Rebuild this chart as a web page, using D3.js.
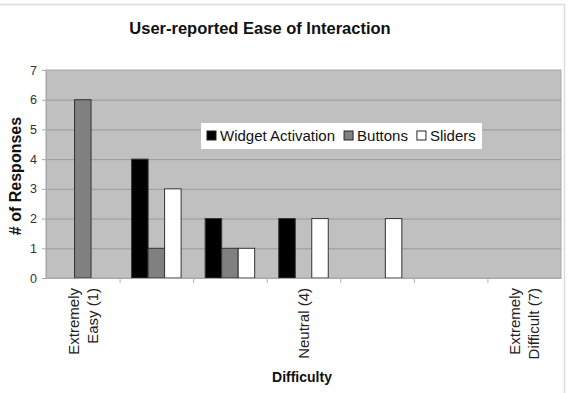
<!DOCTYPE html>
<html lang="en">
<head>
<meta charset="UTF-8">
<title>User-reported Ease of Interaction</title>
<style>
  html, body { margin: 0; padding: 0; background: #fff; }
  svg { display: block; font-family: "Liberation Sans", Arial, sans-serif; }
</style>
</head>
<body>
<svg id="chart" width="570" height="393"></svg>
<script src="https://cdn.jsdelivr.net/npm/d3@7"></script>
<script>
// data
const categories = [1, 2, 3, 4, 5, 6, 7];
const tickLabels = [["Extremely", "Easy (1)"], [], [], ["Neutral (4)"], [], [], ["Extremely", "Difficult (7)"]];
const seriesNames = ["Widget Activation", "Buttons", "Sliders"];
const seriesColors = ["#000000", "#808080", "#ffffff"];
const widget = [0, 4, 2, 2, 0, 0, 0];
const buttons = [6, 1, 1, 0, 0, 0, 0];
const sliders = [0, 3, 1, 2, 2, 0, 0];
const yTicks = [0, 1, 2, 3, 4, 5, 6, 7];

const series = [widget, buttons, sliders];

const svg = d3.select('#chart');
const plot = { left: 46, right: 561, top: 70, bottom: 278 };

// outer frame
svg.append('rect')
  .attr('x', -1).attr('y', 4.5).attr('width', 565.5).attr('height', 400)
  .attr('fill', 'none').attr('stroke', '#dcdcdc').attr('stroke-width', 1.5);

const x = d3.scaleBand().domain(categories).range([plot.left, plot.right]).padding(0);
const groupW = 49.5;
const xs = d3.scaleBand().domain(seriesNames).range([0, groupW]).padding(0);
const y = d3.scaleLinear().domain([0, 7]).range([plot.bottom, plot.top]);

// plot area
svg.append('rect')
  .attr('x', plot.left).attr('y', plot.top)
  .attr('width', plot.right - plot.left).attr('height', plot.bottom - plot.top)
  .attr('fill', '#c0c0c0').attr('stroke', '#a8a8a8');

// gridlines
svg.append('g').selectAll('line')
  .data(yTicks.slice(1, -1))
  .enter().append('line')
  .attr('x1', plot.left).attr('x2', plot.right)
  .attr('y1', d => y(d) + 0.5).attr('y2', d => y(d) + 0.5)
  .attr('stroke', '#9a9a9a');

// bars
const barData = [];
series.forEach((vals, si) => {
  vals.forEach((v, ci) => {
    if (v > 0) barData.push({ s: seriesNames[si], c: categories[ci], v: v, color: seriesColors[si] });
  });
});
svg.append('g').selectAll('rect')
  .data(barData)
  .enter().append('rect')
  .attr('x', d => x(d.c) + (x.bandwidth() - groupW) / 2 + xs(d.s))
  .attr('y', d => y(d.v))
  .attr('width', xs.bandwidth())
  .attr('height', d => y(0) - y(d.v))
  .attr('fill', d => d.color)
  .attr('stroke', '#333')
  .attr('stroke-width', 1);

// y axis
const yAxis = svg.append('g')
  .attr('transform', `translate(${plot.left},0)`)
  .call(d3.axisLeft(y).tickValues(yTicks).tickFormat(d3.format('d')).tickSize(4).tickPadding(5));
yAxis.select('.domain').attr('stroke', '#a8a8a8');
yAxis.selectAll('.tick line').attr('stroke', '#a8a8a8');
yAxis.selectAll('text').attr('font-size', 12.5).attr('fill', '#333')
  .attr('font-family', '"Liberation Sans", Arial, sans-serif');

// x axis with ticks on band boundaries
const xAxis = svg.append('g')
  .attr('transform', `translate(0,${plot.bottom})`)
  .call(d3.axisBottom(x).tickSize(0).tickFormat(''));
xAxis.select('.domain').attr('stroke', '#a8a8a8');
xAxis.selectAll('.tick').remove();
svg.append('g').selectAll('line')
  .data(categories.slice(1))
  .enter().append('line')
  .attr('x1', d => x(d) + 0.5).attr('x2', d => x(d) + 0.5)
  .attr('y1', plot.bottom).attr('y2', plot.bottom + 5)
  .attr('stroke', '#b0b0b0');

// rotated category labels
const lab = svg.append('g');
categories.forEach((c, i) => {
  const lines = tickLabels[i];
  const cx = x(c) + x.bandwidth() / 2;
  lines.forEach((t, li) => {
    const off = (li - (lines.length - 1) / 2) * 18.5;
    lab.append('text')
      .attr('transform', `translate(${cx + off + 5.5},288) rotate(-90)`)
      .attr('text-anchor', 'end')
      .attr('font-size', 15)
      .attr('fill', '#222')
      .text(t);
  });
});

// titles
svg.append('text')
  .attr('x', 260).attr('y', 34)
  .attr('text-anchor', 'middle')
  .attr('font-size', 16.5).attr('font-weight', 'bold').attr('fill', '#111')
  .text('User-reported Ease of Interaction');

svg.append('text')
  .attr('x', 302).attr('y', 382)
  .attr('text-anchor', 'middle')
  .attr('font-size', 14).attr('font-weight', 'bold').attr('fill', '#111')
  .text('Difficulty');

svg.append('text')
  .attr('transform', 'translate(21,176) rotate(-90)')
  .attr('text-anchor', 'middle')
  .attr('font-size', 16).attr('font-weight', 'bold').attr('fill', '#111')
  .text('# of Responses');

// legend
const legend = svg.append('g');
legend.append('rect')
  .attr('x', 201).attr('y', 123).attr('width', 281).attr('height', 26)
  .attr('fill', '#fff');
let lx = 207;
seriesNames.forEach((name, i) => {
  legend.append('rect')
    .attr('x', lx).attr('y', 131).attr('width', 9).attr('height', 9)
    .attr('fill', seriesColors[i]).attr('stroke', '#222');
  const t = legend.append('text')
    .attr('x', lx + 13).attr('y', 140.5)
    .attr('font-size', 15).attr('fill', '#111')
    .text(name);
  lx += 13 + t.node().getComputedTextLength() + 9;
});
</script>
</body>
</html>
